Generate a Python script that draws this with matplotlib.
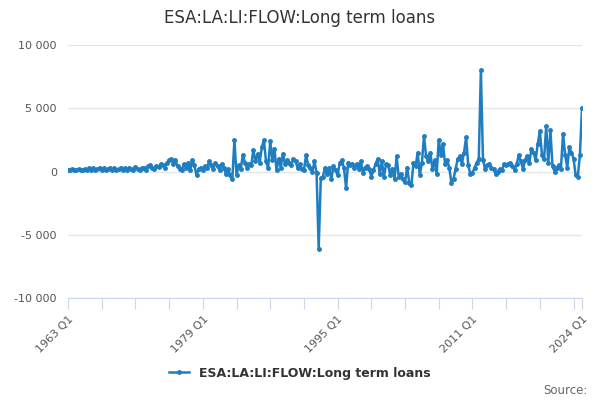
import matplotlib
matplotlib.use("Agg")
import matplotlib.pyplot as plt

# quarterly values, 1963 Q1 .. 2024 Q1
values = [
    150, 100, 200, 120,      # 1963
    100, 180, 80, 150,       # 1964
    200, 100, 300, 150,      # 1965
    250, 100, 200, 300,      # 1966
    150, 250, 100, 200,      # 1967
    300, 150, 250, 100,      # 1968
    200, 300, 150, 250,      # 1969
    100, 300, 200, 150,      # 1970
    350, 200, 100, 250,      # 1971
    300, 150, 400, 500,      # 1972
    300, 200, 450, 350,      # 1973
    600, 500, 300, 700,      # 1974
    900, 1000, 600, 900,     # 1975
    400, 200, 100, 600,      # 1976
    300, 700, 100, 900,      # 1977
    500, -300, 200, 300,     # 1978
    100, 400, 300, 800,      # 1979
    500, 200, 700, 400,      # 1980
    100, 600, 300, -200,     # 1981
    200, -300, -600, 2500,   # 1982
    -300, 500, 200, 1300,    # 1983
    700, 300, 600, 500,      # 1984
    1700, 800, 1400, 700,    # 1985
    1900, 2500, 800, 300,    # 1986
    2400, 900, 1800, 100,    # 1987
    1000, 300, 1400, 600,    # 1988
    900, 700, 500, 1000,     # 1989
    800, 300, 600, 200,      # 1990
    100, 1300, 500, 300,     # 1991
    0, 800, -100, -6100,     # 1992
    -550, -400, 300, -200,   # 1993
    300, -600, 400, 100,     # 1994
    -300, 700, 900, 300,     # 1995
    -1300, 700, 500, 600,    # 1996
    300, 600, 200, 800,      # 1997
    -100, 300, 400, 200,     # 1998
    -400, 100, 600, 1000,    # 1999
    -200, 800, -400, 600,    # 2000
    500, -300, 200, -600,    # 2001
    1200, -400, -200, -600,  # 2002
    -800, 300, -900, -1100,  # 2003
    700, 400, 1500, -300,    # 2004
    700, 2800, 1200, 800,    # 2005
    1500, 200, 900, -200,    # 2006
    2500, 1300, 2200, 600,   # 2007
    900, 300, -900, -600,    # 2008
    200, 1000, 1200, 600,    # 2009
    1500, 2700, 500, -200,   # 2010
    -100, 300, 700, 1000,    # 2011
    8000, 900, 200, 500,     # 2012
    600, 300, 200, -200,     # 2013
    0, 200, 100, 600,        # 2014
    500, 600, 700, 400,      # 2015
    100, 600, 1300, 800,     # 2016
    200, 900, 1200, 700,     # 2017
    1800, 1500, 900, 2200,   # 2018
    3200, 1300, 1000, 3600,  # 2019
    700, 3300, 400, 0,       # 2020
    300, 500, 200, 3000,     # 2021
    1300, 300, 1900, 1500,   # 2022
    1000, -300, -400, 1300,  # 2023
    5000,                    # 2024
]
first_year = 1963
label_years = [1963, 1979, 1995, 2011, 2024]
y_ticks = [-10000, -5000, 0, 5000, 10000]
series_name = "ESA:LA:LI:FLOW:Long term loans"

x = list(range(len(values)))

fig = plt.figure(figsize=(6, 4), dpi=100)
ax = fig.add_axes([68 / 600, 1 - 298 / 400, 514 / 600, 253 / 400])

ax.plot(x, values, color="#1f7ec1", lw=1.8, marker="o", ms=2.5,
        label=series_name, zorder=3)

ax.set_xlim(0, len(values) - 1)
ax.set_ylim(-10000, 10000)
ax.set_yticks(y_ticks)
ax.set_yticklabels(["{:,}".format(v).replace(",", " ") for v in y_ticks],
                   color="#555555", fontsize=8)
ax.grid(axis="y", color="#e6e6e6", lw=1)
ax.set_axisbelow(True)

# ticks every 4 years, plus the last quarter
tick_pos = list(range(0, len(values), 16)) + [len(values) - 1]
ax.set_xticks(tick_pos)
tick_lab = []
for p in tick_pos:
    yr = first_year + p // 4
    tick_lab.append("{} Q1".format(yr) if yr in label_years and p % 4 == 0 else "")
ax.set_xticklabels(tick_lab, rotation=45, ha="right", rotation_mode="anchor",
                   color="#555555", fontsize=8)
ax.tick_params(axis="x", length=8, color="#ccd6eb", direction="out")
ax.tick_params(axis="y", length=0, pad=8)

for s in ["top", "right", "left"]:
    ax.spines[s].set_visible(False)
ax.spines["bottom"].set_color("#ccd6eb")

fig.text(0.5, 1 - 18 / 400, series_name, ha="center", va="center",
         fontsize=12, color="#333333")
leg = fig.legend(loc="center", bbox_to_anchor=(0.5, 1 - 373 / 400), frameon=False,
                 prop={"weight": "bold", "size": 9}, handlelength=1.6)
for t in leg.get_texts():
    t.set_color("#333333")
fig.text(588 / 600, 1 - 390 / 400, "Source:", ha="right", va="center",
         fontsize=8.5, color="#666666")

fig.savefig("out.png", dpi=100)
